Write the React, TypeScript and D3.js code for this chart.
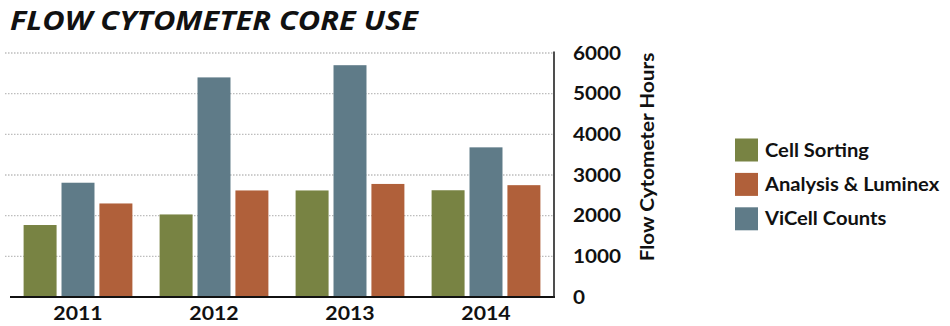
import React from "react";
import * as d3 from "d3";

const years = ["2011", "2012", "2013", "2014"];
const seriesKeys = ["Cell Sorting", "ViCell Counts", "Analysis & Luminex"];
const cellSorting = [1770, 2030, 2620, 2625];
const viCellCounts = [2810, 5400, 5700, 3680];
const analysisLuminex = [2300, 2620, 2780, 2750];
const legendOrder = ["Cell Sorting", "Analysis & Luminex", "ViCell Counts"];
const yTicks = [0, 1000, 2000, 3000, 4000, 5000, 6000];

const colors: Record<string, string> = {
  "Cell Sorting": "#788343",
  "Analysis & Luminex": "#b0603a",
  "ViCell Counts": "#5f7b88",
};

const valuesBySeries: Record<string, number[]> = {
  "Cell Sorting": cellSorting,
  "ViCell Counts": viCellCounts,
  "Analysis & Luminex": analysisLuminex,
};

const font = "Lato, 'Open Sans', sans-serif";

function SText({ x, y, anchor = "start", sx = 1.12, size, children }: any) {
  return (
    <g transform={`translate(${x},${y}) scale(${sx},1)`}>
      <text x={0} y={0} textAnchor={anchor} fontFamily={font} fontWeight={700} fontSize={size} fill="#111">
        {children}
      </text>
    </g>
  );
}

export default function App() {
  const W = 950;
  const H = 326;
  const left = 10;
  const right = 554;
  const y = d3.scaleLinear().domain([0, 6000]).range([297, 53]);
  const x0 = d3.scaleBand<string>().domain(years).range([left, right]).paddingInner(0.2).paddingOuter(0.1);
  const x1 = d3.scaleBand<string>().domain(seriesKeys).range([0, x0.bandwidth()]).paddingInner(0.13);

  return (
    <svg width={W} height={H} style={{ position: "absolute", left: 0, top: 0, background: "#fff" }}>
      <text x={10} y={30} fontFamily="'Open Sans', sans-serif" fontWeight={700} fontStyle="italic" fontSize={27} fill="#111" textLength={408} lengthAdjust="spacingAndGlyphs">
        FLOW CYTOMETER CORE USE
      </text>
      {yTicks.filter((t) => t > 0).map((t) => (
        <line key={t} x1={5} x2={right} y1={y(t)} y2={y(t)} stroke="#bdbdbd" strokeWidth={1.3} strokeDasharray="1.5,1.5" />
      ))}
      {years.map((yr, i) => (
        <g key={yr} transform={`translate(${x0(yr)},0)`}>
          {seriesKeys.map((k) => (
            <rect key={k} x={x1(k)} width={x1.bandwidth()} y={y(valuesBySeries[k][i])} height={y(0) - y(valuesBySeries[k][i])} fill={colors[k]} />
          ))}
        </g>
      ))}
      <line x1={left} x2={right + 1} y1={y(0)} y2={y(0)} stroke="#111" strokeWidth={2} />
      <line x1={right} x2={right} y1={51.5} y2={y(0) + 1} stroke="#222" strokeWidth={1.6} />
      {yTicks.map((t) => (
        <SText key={t} x={573} y={y(t) + 6.5} size={18.5}>
          {t}
        </SText>
      ))}
      {years.map((yr) => (
        <SText key={yr} x={(x0(yr) as number) + x0.bandwidth() / 2} y={320} anchor="middle" size={19}>
          {yr}
        </SText>
      ))}
      <g transform={`translate(654,157) rotate(-90) scale(1.12,1)`}>
        <text textAnchor="middle" fontFamily={font} fontWeight={700} fontSize={18.5} fill="#111">
          Flow Cytometer Hours
        </text>
      </g>
      {legendOrder.map((k, i) => (
        <g key={k} transform={`translate(735,${138.5 + i * 34.4})`}>
          <rect width={23} height={23} fill={colors[k]} />
          <SText x={30} y={18} size={18}>
            {k}
          </SText>
        </g>
      ))}
    </svg>
  );
}
